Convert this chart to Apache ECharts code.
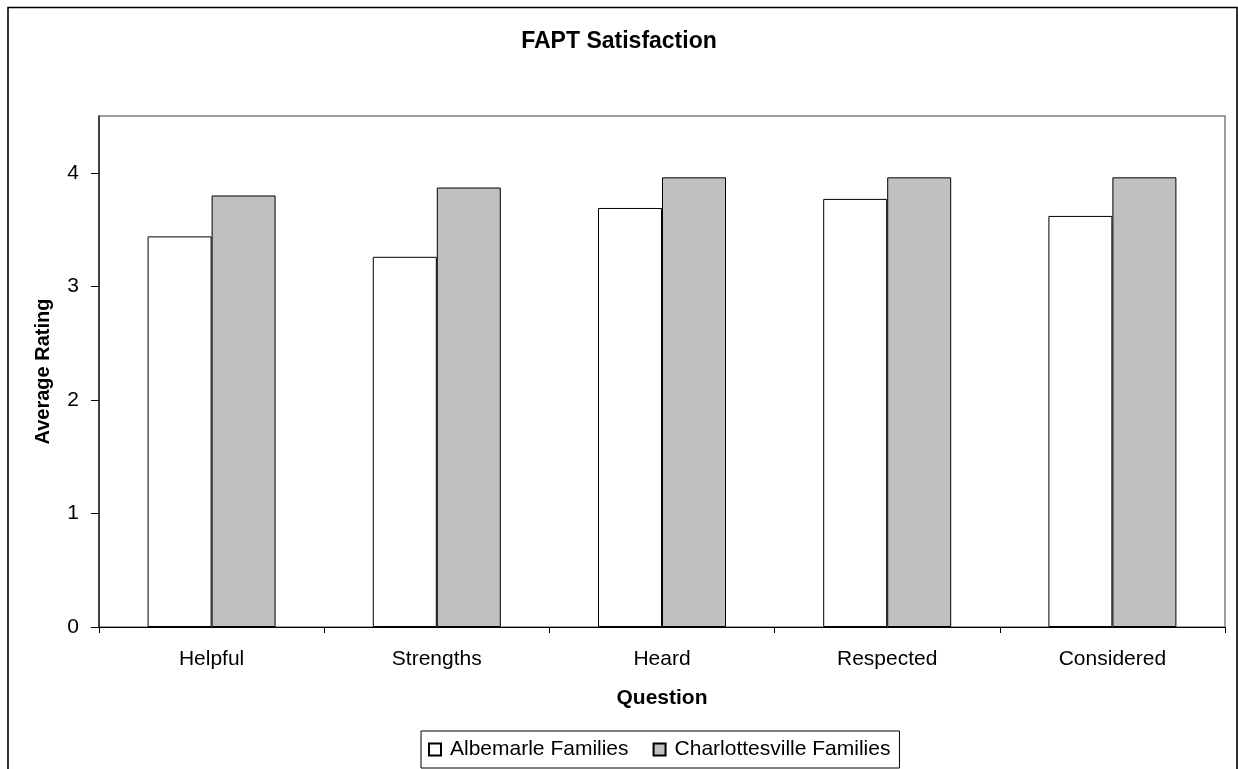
<!DOCTYPE html>
<html>
<head>
<meta charset="utf-8">
<title>FAPT Satisfaction</title>
<script src="https://cdn.jsdelivr.net/npm/echarts@6/dist/echarts.min.js"></script>
<style>
  html, body { margin: 0; padding: 0; background: #fff; }
  #chart { width: 1238px; height: 769px; }
</style>
</head>
<body>
<div id="chart"></div>
<script>
// Survey questions and average ratings per locality
const categories = ['Helpful', 'Strengths', 'Heard', 'Respected', 'Considered'];
const albemarle = [3.44, 3.26, 3.69, 3.77, 3.62];
const charlottesville = [3.80, 3.87, 3.96, 3.96, 3.96];
const yTicks = [0, 1, 2, 3, 4];

const FONT = '"Liberation Sans", Arial, Helvetica, sans-serif';

const chart = echarts.init(document.getElementById('chart'), null, { renderer: 'canvas' });

chart.setOption({
  backgroundColor: '#ffffff',
  animation: false,
  textStyle: { fontFamily: FONT, color: '#000' },
  title: {
    text: 'FAPT Satisfaction',
    left: 'center',
    top: 25,
    textStyle: { fontFamily: FONT, fontSize: 23, fontWeight: 'bold', color: '#000' }
  },
  // frame around the whole chart
  graphic: [{
    type: 'rect',
    silent: true,
    z: -1,
    shape: { x: 8, y: 7.5, width: 1229, height: 800 },
    style: { fill: 'none', stroke: '#000', lineWidth: 1.6 }
  }],
  grid: {
    left: 99, right: 13, top: 116, bottom: 142,
    show: true,
    borderColor: '#808080',
    borderWidth: 1.5,
    backgroundColor: '#ffffff'
  },
  legend: {
    left: 421,
    top: 731,
    orient: 'horizontal',
    itemWidth: 12,
    itemHeight: 12,
    itemGap: 24,
    padding: [8, 9, 8, 7],
    borderColor: '#000',
    borderWidth: 1,
    backgroundColor: '#fff',
    icon: 'rect',
    textStyle: { fontFamily: FONT, fontSize: 21, color: '#000', padding: [0, 0, 0, 4] },
    data: ['Albemarle Families', 'Charlottesville Families']
  },
  xAxis: {
    type: 'category',
    data: categories,
    name: 'Question',
    nameLocation: 'middle',
    nameGap: 61,
    nameTextStyle: { fontFamily: FONT, fontSize: 21, fontWeight: 'bold', color: '#000' },
    axisLine: { show: true, lineStyle: { color: '#000', width: 1 } },
    axisTick: { show: true, length: 6, lineStyle: { color: '#000' } },
    axisLabel: { fontFamily: FONT, fontSize: 21, color: '#000', margin: 22 },
    splitLine: { show: false }
  },
  yAxis: {
    type: 'value',
    min: 0,
    max: 4.5,
    interval: 1,
    name: 'Average Rating',
    nameLocation: 'middle',
    nameGap: 46,
    nameTextStyle: { fontFamily: FONT, fontSize: 20, fontWeight: 'bold', color: '#000' },
    axisLine: { show: true, lineStyle: { color: '#222', width: 1.5 } },
    axisTick: { show: true, length: 8, customValues: yTicks, lineStyle: { color: '#000' } },
    axisLabel: { fontFamily: FONT, fontSize: 21, color: '#000', margin: 20, customValues: yTicks },
    splitLine: { show: false }
  },
  series: [
    {
      name: 'Albemarle Families',
      type: 'bar',
      data: albemarle,
      barWidth: 64,
      barGap: '0%',
      itemStyle: { color: '#ffffff', borderColor: '#000', borderWidth: 1 }
    },
    {
      name: 'Charlottesville Families',
      type: 'bar',
      data: charlottesville,
      barWidth: 64,
      barGap: '0%',
      itemStyle: { color: '#c0c0c0', borderColor: '#000', borderWidth: 1 }
    }
  ]
});
</script>
</body>
</html>
